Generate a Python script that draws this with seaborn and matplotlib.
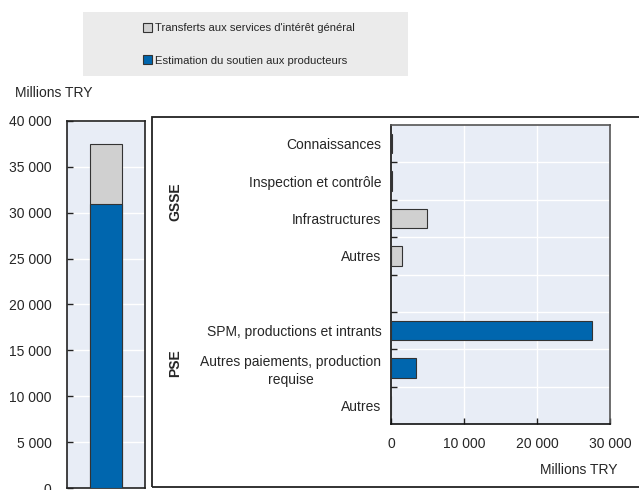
import matplotlib
matplotlib.use("Agg")
import matplotlib.pyplot as plt
from matplotlib.patches import Rectangle, Patch
from matplotlib.ticker import FuncFormatter, FixedLocator
import seaborn as sns
import pandas as pd

# Support categories (Millions TRY)
gsse_labels = ["Connaissances", "Inspection et contrôle", "Infrastructures", "Autres"]
gsse_values = [100, 100, 4900, 1500]
pse_labels = ["SPM, productions et intrants", "Autres paiements, production\nrequise", "Autres"]
pse_values = [27500, 3400, 0]

legend_labels = ["Transferts aux services d'intérêt général", "Estimation du soutien aux producteurs"]
unit_label = "Millions TRY"

BLUE = "#0066ae"
GREY = "#d0d0d0"
PANEL = "#e8edf6"
EDGE = "#333333"

sns.set_theme(style="white")
plt.rcParams["font.family"] = ["Liberation Sans Narrow", "Liberation Sans", "DejaVu Sans"]
plt.rcParams["font.size"] = 10

fig = plt.figure(figsize=(6.39, 4.90), dpi=100)
W, H = 639, 490


def px_axes(x0, y0, x1, y1):
    return fig.add_axes([x0 / W, 1 - y1 / H, (x1 - x0) / W, (y1 - y0) / H])


def space_thousands(v, _):
    return f"{int(round(v)):,}".replace(",", " ")


# Legend band
fig.patches.append(Rectangle((83 / W, 1 - 76 / H), (408 - 83) / W, 64 / H,
                             transform=fig.transFigure, facecolor="#ebebeb",
                             edgecolor="none", zorder=0))
handles = [Patch(facecolor=GREY, edgecolor=EDGE, linewidth=0.8),
           Patch(facecolor=BLUE, edgecolor=EDGE, linewidth=0.8)]
fig.legend(handles, legend_labels, loc="upper left", bbox_to_anchor=(135 / W, 1 - 15 / H),
           frameon=False, handlelength=0.85, handleheight=0.85, handletextpad=0.25,
           labelspacing=1.95, borderpad=0.2, fontsize=8.1)

fig.text(15 / W, 1 - 93 / H, unit_label, ha="left", va="center", fontsize=10)

# Left panel: stacked total
gsse_total = sum(gsse_values)
pse_total = sum(pse_values)
ax1 = px_axes(67, 121, 145, 488)
ax1.set_facecolor(PANEL)
tot = pd.DataFrame({"k": ["Total"], "v": [gsse_total + pse_total]})
pse = pd.DataFrame({"k": ["Total"], "v": [pse_total]})
sns.barplot(data=tot, x="k", y="v", color=GREY, width=0.4, edgecolor=EDGE,
            linewidth=0.8, saturation=1, ax=ax1, zorder=3)
sns.barplot(data=pse, x="k", y="v", color=BLUE, width=0.4, edgecolor=EDGE,
            linewidth=0.8, saturation=1, ax=ax1, zorder=4)
ax1.set_xlim(-0.5, 0.5)
ax1.set_ylim(0, 40000)
ax1.set_yticks(range(0, 40001, 5000))
ax1.yaxis.set_major_formatter(FuncFormatter(space_thousands))
ax1.set_xticks([])
ax1.set_xlabel("")
ax1.set_ylabel("")
ax1.grid(axis="y", color="white", linewidth=1.0, zorder=1)
ax1.set_axisbelow(True)
ax1.tick_params(axis="y", direction="in", length=4, width=1, color="#222222",
                left=True, pad=11, labelsize=10)
for s in ax1.spines.values():
    s.set_color("#222222")
    s.set_linewidth(1.2)

# Right panel frame
fig.patches.append(Rectangle((152 / W, 1 - 487 / H), 700 / W, (487 - 117) / H,
                             transform=fig.transFigure, facecolor="none",
                             edgecolor="#222222", linewidth=1.3, zorder=1))

# Right panel: breakdown by category
keys = [f"g{i}" for i in range(len(gsse_labels))] + ["gap"] + [f"p{i}" for i in range(len(pse_labels))]
df = pd.DataFrame({
    "key": [f"g{i}" for i in range(len(gsse_labels))] + [f"p{i}" for i in range(len(pse_labels))],
    "value": gsse_values + pse_values,
    "group": ["GSSE"] * len(gsse_labels) + ["PSE"] * len(pse_labels),
})
ax2 = px_axes(391, 125, 610, 424)
ax2.set_facecolor(PANEL)
sns.barplot(data=df, y="key", x="value", hue="group", order=keys,
            palette={"GSSE": GREY, "PSE": BLUE}, dodge=False, width=0.52,
            edgecolor=EDGE, linewidth=0.8, saturation=1, legend=False, ax=ax2, zorder=3)
ax2.set_xlim(0, 30000)
ax2.set_ylim(len(keys) - 0.5, -0.5)
ax2.set_xticks([0, 10000, 20000, 30000])
ax2.xaxis.set_major_formatter(FuncFormatter(space_thousands))
ax2.yaxis.set_major_locator(FixedLocator([i + 0.5 for i in range(len(keys) - 1)]))
ax2.yaxis.set_minor_locator(FixedLocator(list(range(len(keys)))))
ax2.set_yticklabels([], minor=False)
ax2.set_yticklabels(gsse_labels + [""] + pse_labels, minor=True, fontsize=10,
                    linespacing=1.35, multialignment="center")
ax2.tick_params(axis="y", which="major", direction="in", length=4, width=1,
                color="#222222", left=True)
ax2.tick_params(axis="y", which="minor", length=0, pad=7)
ax2.tick_params(axis="x", which="major", direction="in", length=4, width=1,
                color="#222222", bottom=True, pad=9, labelsize=10)
ax2.grid(True, which="major", color="white", linewidth=1.0, zorder=1)
ax2.set_axisbelow(True)
ax2.set_xlabel("")
ax2.set_ylabel("")
for s in ax2.spines.values():
    s.set_color("#555555")
    s.set_linewidth(1.2)
ax2.spines["left"].set_color("#111111")
ax2.spines["bottom"].set_color("#111111")

fig.text(617 / W, 1 - 470 / H, unit_label, ha="right", va="center", fontsize=10)
fig.text(175 / W, 1 - 202 / H, "GSSE", rotation=90, ha="center", va="center",
         fontsize=10, fontweight="bold")
fig.text(175 / W, 1 - 363 / H, "PSE", rotation=90, ha="center", va="center",
         fontsize=10, fontweight="bold")

fig.savefig("out.png", dpi=100)
